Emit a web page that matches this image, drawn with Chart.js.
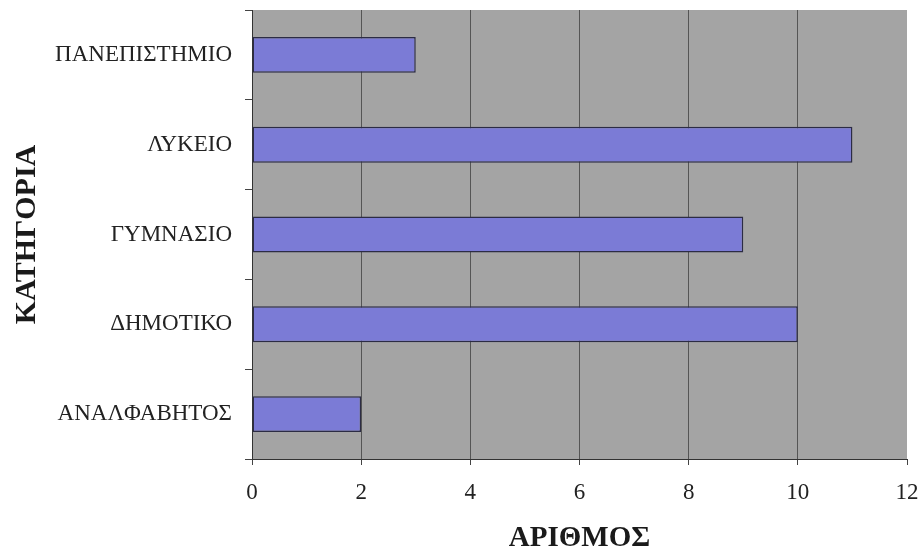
<!DOCTYPE html>
<html>
<head>
<meta charset="utf-8">
<script src="https://cdn.jsdelivr.net/npm/chart.js@4/dist/chart.umd.min.js"></script>
<style>
  html, body { margin: 0; padding: 0; background: #ffffff; }
  #wrap { width: 921px; height: 552px; position: relative; }
</style>
</head>
<body>
<div id="wrap"><canvas id="c" width="921" height="552"></canvas></div>
<script>
const categories = ['ΠΑΝΕΠΙΣΤΗΜΙΟ', 'ΛΥΚΕΙΟ', 'ΓΥΜΝΑΣΙΟ', 'ΔΗΜΟΤΙΚΟ', 'ΑΝΑΛΦΑΒΗΤΟΣ'];
const counts = [3, 11, 9, 10, 2];
const xMin = 0;
const xMax = 12;
const xStep = 2;
const xTitle = 'ΑΡΙΘΜΟΣ';
const yTitle = 'ΚΑΤΗΓΟΡΙΑ';

const serif = "'Liberation Serif', 'Times New Roman', serif";

const plotBg = {
  id: 'plotBg',
  beforeDraw(chart) {
    const {ctx, chartArea: a} = chart;
    ctx.save();
    ctx.fillStyle = '#a4a4a4';
    ctx.fillRect(a.left, a.top, a.right - a.left, a.bottom - a.top);
    ctx.restore();
  }
};

new Chart(document.getElementById('c'), {
  type: 'bar',
  data: {
    labels: categories,
    datasets: [{
      data: counts,
      backgroundColor: '#7b7bd6',
      borderColor: '#2c2c44',
      borderWidth: 1.5,
      borderSkipped: false,
      barPercentage: 0.4,
      categoryPercentage: 1.0
    }]
  },
  options: {
    indexAxis: 'y',
    responsive: false,
    animation: false,
    devicePixelRatio: 1,
    layout: { padding: { top: 10, right: 14, bottom: 0, left: 0 } },
    plugins: { legend: { display: false }, tooltip: { enabled: false } },
    scales: {
      x: {
        type: 'linear',
        min: xMin,
        max: xMax,
        ticks: {
          stepSize: xStep,
          padding: 14,
          color: '#222',
          font: { family: serif, size: 23 }
        },
        grid: {
          color: (c) => (c.tick && c.tick.value === xMax) ? 'rgba(0,0,0,0)' : '#555',
          tickColor: '#444',
          lineWidth: 1,
          drawTicks: true,
          tickLength: 6
        },
        border: { display: true, color: '#333', width: 1 },
        title: {
          display: true,
          text: xTitle,
          color: '#1a1a1a',
          font: { family: serif, size: 29, weight: 'bold', lineHeight: 0.9 },
          padding: { top: 0, bottom: 0 }
        },
        afterFit(scale) {
          scale.height = 93;
          scale.paddingLeft = 0; scale.paddingRight = 0;
          scale.paddingTop = 0; scale.paddingBottom = 0;
        }
      },
      y: {
        type: 'category',
        ticks: {
          padding: 13,
          color: '#222',
          font: { family: serif, size: 23 }
        },
        grid: {
          offset: true,
          drawOnChartArea: false,
          drawTicks: true,
          tickLength: 7,
          color: '#444',
          tickColor: '#444'
        },
        border: { display: true, color: '#333', width: 1 },
        title: {
          display: true,
          text: yTitle,
          color: '#1a1a1a',
          font: { family: serif, size: 30, weight: 'bold' },
          padding: { top: 9, bottom: 0 }
        },
        afterFit(scale) {
          scale.width = 252;
          scale.paddingLeft = 0; scale.paddingRight = 0;
          scale.paddingTop = 0; scale.paddingBottom = 0;
        }
      }
    }
  },
  plugins: [plotBg]
});
</script>
</body>
</html>
